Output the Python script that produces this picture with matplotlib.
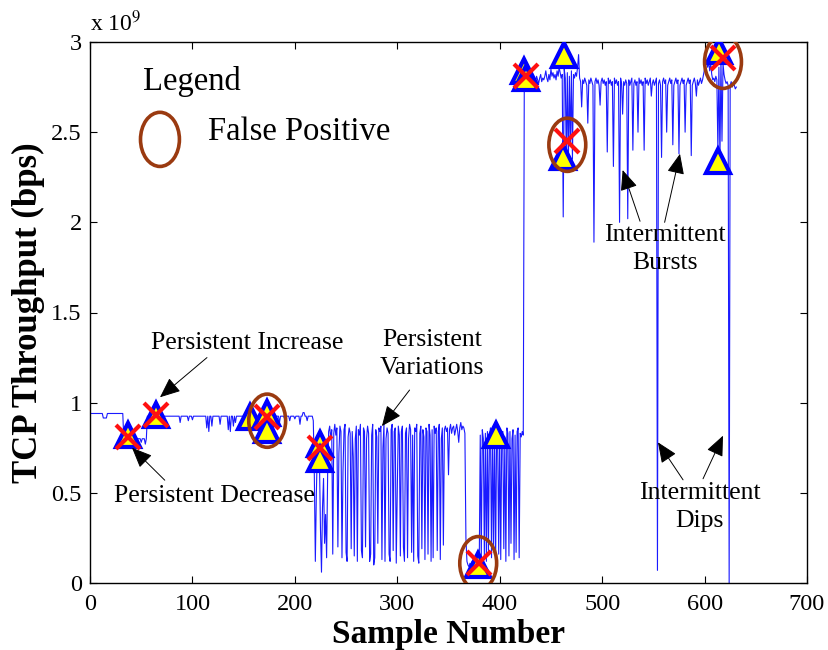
import numpy as np
import matplotlib
matplotlib.use("Agg")
import matplotlib.pyplot as plt
from matplotlib.patches import Ellipse

# ---------------- data (throughput in units of 1e9 bps) ----------------
# segment A (samples 0..217): flat runs with small dips
a_run_start = [0, 13, 17, 33, 56]
a_run_end = [13, 17, 33, 56, 218]
a_run_level = [0.94, 0.915, 0.94, 0.80, 0.925]
a_dip_idx = [40, 50, 54, 88, 96, 100, 114, 116, 119, 127, 135, 137, 140, 142,
             150, 158, 165, 170, 178, 185, 190, 195, 200, 205, 208, 209, 212]
a_dip_val = [0.79, 0.78, 0.77, 0.89, 0.90, 0.905, 0.86, 0.84, 0.87, 0.88, 0.85,
             0.84, 0.87, 0.89, 0.90, 0.91, 0.88, 0.90, 0.89, 0.89, 0.91, 0.90,
             0.91, 0.88, 0.945, 0.945, 0.90]

# segment B (samples 218..423): persistent variations
seg_b = [
    0.90, 0.60, 0.12, 0.50, 0.76, 0.74, 0.68, 0.30, 0.06, 0.42,
    0.58, 0.22, 0.38, 0.14, 0.60, 0.84, 0.87, 0.80, 0.85, 0.16,
    0.83, 0.88, 0.82, 0.86, 0.20, 0.72, 0.87, 0.84, 0.14, 0.62,
    0.85, 0.88, 0.17, 0.12, 0.81, 0.86, 0.83, 0.19, 0.84, 0.70,
    0.15, 0.80, 0.87, 0.12, 0.85, 0.82, 0.88, 0.18, 0.14, 0.86,
    0.84, 0.20, 0.80, 0.87, 0.83, 0.12, 0.16, 0.82, 0.88, 0.10,
    0.14, 0.85, 0.81, 0.22, 0.86, 0.84, 0.87, 0.13, 0.75, 0.88,
    0.12, 0.80, 0.86, 0.83, 0.16, 0.12, 0.85, 0.88, 0.18, 0.84,
    0.86, 0.11, 0.52, 0.87, 0.82, 0.15, 0.84, 0.87, 0.20, 0.12,
    0.83, 0.86, 0.14, 0.80, 0.88, 0.85, 0.17, 0.82, 0.12, 0.86,
    0.84, 0.88, 0.15, 0.11, 0.83, 0.87, 0.19, 0.85, 0.81, 0.13,
    0.86, 0.84, 0.16, 0.88, 0.82, 0.12, 0.85, 0.14, 0.87, 0.83,
    0.86, 0.18, 0.84, 0.88, 0.13, 0.80, 0.86, 0.21, 0.85, 0.87,
    0.84, 0.86, 0.60, 0.85, 0.88, 0.83, 0.86, 0.87, 0.82, 0.85,
    0.88, 0.84, 0.78, 0.86, 0.89, 0.85, 0.87, 0.86, 0.83, 0.25,
    0.12, 0.10, 0.09, 0.11, 0.10, 0.12, 0.09, 0.11, 0.10, 0.12,
    0.10, 0.11, 0.09, 0.82, 0.13, 0.85, 0.80, 0.15, 0.83, 0.12,
    0.84, 0.18, 0.81, 0.86, 0.14, 0.82, 0.20, 0.84, 0.11, 0.83,
    0.80, 0.16, 0.85, 0.13, 0.82, 0.84, 0.19, 0.81, 0.12, 0.86,
    0.83, 0.15, 0.84, 0.22, 0.80, 0.85, 0.13, 0.82, 0.17, 0.84,
    0.86, 0.14, 0.83, 0.81, 0.84, 0.82,
]

# segment C (samples 424..631): high level with bursts and dips
seg_c = [
    2.80, 2.83, 2.79, 2.82, 2.86, 2.80, 2.78, 2.81, 2.79, 2.77,
    2.80, 2.78, 2.81, 2.79, 2.77, 2.80, 2.82, 2.78, 2.80, 2.79,
    2.81, 2.84, 2.80, 2.78, 2.82, 2.79, 2.85, 2.81, 2.83, 2.80,
    2.82, 2.79, 2.84, 2.81, 2.86, 2.83, 2.80, 2.82, 2.03, 2.85,
    2.80, 2.36, 2.83, 2.30, 2.81, 2.42, 2.84, 2.35, 2.82, 2.80,
    2.83, 2.81, 2.86, 2.93, 2.80, 2.78, 2.64, 2.79, 2.77, 2.80,
    2.78, 2.76, 2.55, 2.79, 2.77, 2.80, 2.78, 2.76, 1.89, 2.78,
    2.80, 2.77, 2.79, 2.76, 2.65, 2.78, 2.80, 2.77, 2.79, 2.76,
    2.78, 2.39, 2.80, 2.77, 2.79, 2.76, 2.78, 2.31, 2.80, 2.77,
    2.79, 2.76, 2.78, 2.00, 2.80, 2.77, 2.60, 2.78, 2.76, 2.79,
    2.77, 2.02, 2.79, 2.76, 2.78, 2.80, 2.40, 2.77, 2.79, 2.76,
    2.78, 2.50, 2.80, 2.77, 2.79, 2.76, 2.78, 2.40, 2.80, 2.77,
    2.79, 2.76, 2.78, 2.80, 2.70, 2.77, 2.79, 2.76, 2.78, 2.80,
    0.07, 2.77, 2.79, 2.76, 2.36, 2.78, 2.80, 2.77, 2.79, 2.50,
    2.76, 2.78, 2.80, 2.77, 2.79, 2.43, 2.76, 2.78, 2.80, 2.77,
    2.79, 2.38, 2.76, 2.78, 2.80, 2.77, 2.79, 2.50, 2.76, 2.78,
    2.80, 2.77, 2.79, 2.37, 2.76, 2.78, 2.80, 2.77, 2.70, 2.79,
    2.76, 2.78, 2.80, 2.77, 2.79, 2.82, 2.85, 2.88, 2.90, 2.86,
    2.89, 2.84, 2.88, 2.82, 2.79, 2.80, 2.78, 2.81, 2.79, 2.40,
    2.86, 2.34, 2.90, 2.45, 2.88, 2.82, 2.79, 2.77, 2.78, 2.76,
    0.00, 2.76, 2.78, 2.75, 2.77, 2.76, 2.74, 2.75,
]

# detection markers
tri_x = [37, 64, 156, 173, 173, 225, 225, 379, 396, 424, 426, 463, 462, 614, 613]
tri_y = [0.82, 0.93, 0.92, 0.94, 0.85, 0.77, 0.69, 0.10, 0.82, 2.84, 2.80, 2.93, 2.36, 2.95, 2.34]
cross_x = [37, 64, 173, 225, 380, 426, 466, 618]
cross_y = [0.81, 0.93, 0.92, 0.75, 0.11, 2.81, 2.45, 2.91]
fp_x = [173, 379, 466, 618]
fp_y = [0.90, 0.11, 2.43, 2.89]

x_ticks = [0, 100, 200, 300, 400, 500, 600, 700]
y_ticks = [0, 0.5, 1, 1.5, 2, 2.5, 3]
y_tick_labels = ["0", "0.5", "1", "1.5", "2", "2.5", "3"]

# ---------------- build series ----------------
seg_a = np.zeros(218)
for s, e, v in zip(a_run_start, a_run_end, a_run_level):
    seg_a[s:e] = v
for i, v in zip(a_dip_idx, a_dip_val):
    seg_a[i] = v
throughput = np.concatenate([seg_a, np.array(seg_b), np.array(seg_c)])
samples = np.arange(len(throughput))

# ---------------- plot ----------------
plt.rcParams['font.family'] = ['Liberation Serif', 'DejaVu Serif']
plt.rcParams['mathtext.fontset'] = 'stix'

fig = plt.figure(figsize=(8.29, 6.5), dpi=100)
ax = fig.add_axes([90/829, 67/650, 717/829, 541/650])

ax.plot(samples, throughput, color=(0.1, 0.1, 1.0), lw=0.8, zorder=2)
ax.plot(tri_x, tri_y, linestyle='none', marker='^', markersize=17,
        markerfacecolor='#ffff00', markeredgecolor='#0000ff', markeredgewidth=3, zorder=3)
ax.plot(cross_x, cross_y, linestyle='none', marker='x', markersize=17,
        color='#ff1010', markeredgewidth=3, zorder=4)

ell_color = '#9a3a10'
for cx, cy in zip(fp_x, fp_y):
    ax.add_patch(Ellipse((cx, cy), 36, 0.295, fill=False, edgecolor=ell_color,
                         lw=2.6, zorder=5))

# legend (manual)
ax.text(51.7, 2.78, "Legend", fontsize=23.5, ha='left', va='center')
ax.add_patch(Ellipse((68.3, 2.46), 38, 0.30, fill=False, edgecolor=ell_color, lw=2.6))
ax.text(115.2, 2.5, "False Positive", fontsize=23.5, ha='left', va='center')

# annotations
afs = 18.5
ls = 1.35
ax.text(153.3, 1.33, "Persistent Increase", fontsize=afs, ha='center', va='center')
ax.text(121, 0.48, "Persistent Decrease", fontsize=afs, ha='center', va='center')
ax.text(334, 1.27, "Persistent\nVariations", fontsize=afs, ha='center', va='center', linespacing=ls)
ax.text(561, 1.85, "Intermittent\nBursts", fontsize=afs, ha='center', va='center', linespacing=ls)
ax.text(595.5, 0.42, "Intermittent\nDips", fontsize=afs, ha='center', va='center', linespacing=ls)

arrows = [((114.2, 1.25), (68.3, 1.03)),
          ((73, 0.57), (41, 0.75)),
          ((312, 1.07), (285, 0.87)),
          ((537, 2.006), (520, 2.29)),
          ((561, 2.0), (576, 2.38)),
          ((579, 0.572), (554.5, 0.78)),
          ((598.5, 0.578), (618, 0.817))]
for tail, head in arrows:
    ax.annotate('', xy=head, xytext=tail,
                arrowprops=dict(arrowstyle='-|>,head_length=0.7,head_width=0.3',
                                color='k', lw=0.7, shrinkA=0, shrinkB=0,
                                mutation_scale=18), zorder=6)

ax.set_xlim(0, 700)
ax.set_ylim(0, 3)
ax.set_xticks(x_ticks)
ax.set_yticks(y_ticks)
ax.set_yticklabels(y_tick_labels)
ax.tick_params(direction='in', length=5, width=0.8, labelsize=17.5,
               top=True, right=True)
ax.tick_params(axis='x', pad=8)
ax.tick_params(axis='y', pad=6)
for sp in ax.spines.values():
    sp.set_linewidth(1.0)

ax.set_xlabel("Sample Number", fontsize=24, fontweight='bold', labelpad=3)
ax.set_ylabel("TCP Throughput (bps)", fontsize=25, fontweight='bold', labelpad=4)
ax.text(0.0, 1.01, r"x 10$^{9}$", transform=ax.transAxes, fontsize=17,
        ha='left', va='bottom')

fig.savefig("out.png", dpi=100)
